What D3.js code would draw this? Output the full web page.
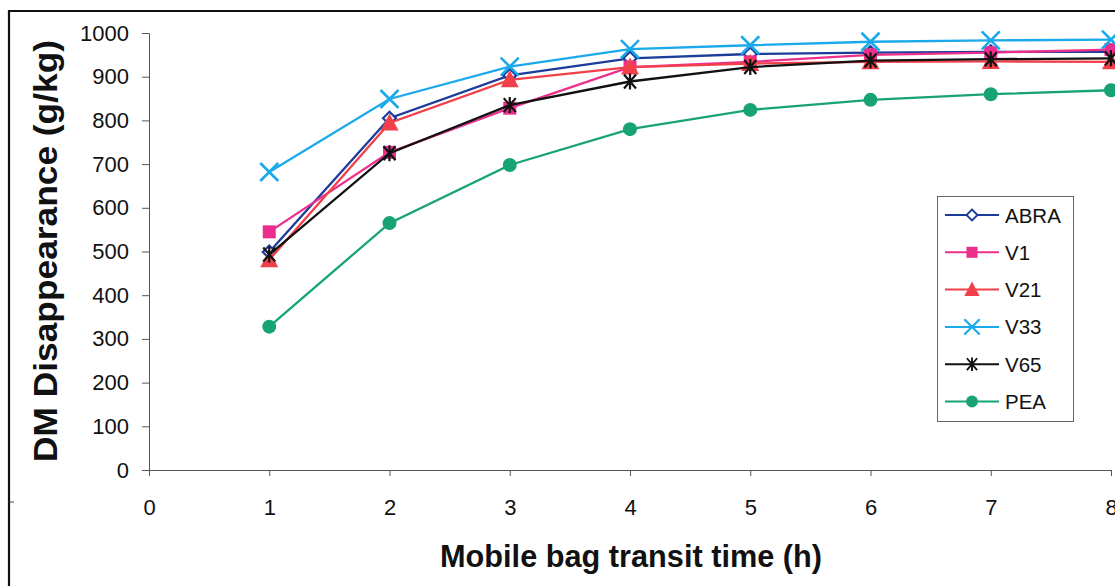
<!DOCTYPE html>
<html>
<head>
<meta charset="utf-8">
<script src="https://cdn.jsdelivr.net/npm/d3@7"></script>
<style>
  html, body { margin: 0; padding: 0; background: #fff; }
  svg { display: block; font-family: Arial, "Liberation Sans", sans-serif; }
</style>
</head>
<body>
<svg id="chart" width="1115" height="586"></svg>
<script>
// Transit time (h) and DM disappearance (g/kg) per forage
const hours = [1, 2, 3, 4, 5, 6, 7, 8];
const abra = [499, 805, 903, 942, 952, 955, 957, 957];
const v1   = [545, 727, 828, 922, 934, 950, 955, 962];
const v21  = [481, 794, 893, 922, 930, 934, 935, 934];
const v33  = [682, 849, 923, 963, 972, 980, 983, 985];
const v65  = [493, 725, 835, 889, 922, 937, 940, 942];
const pea  = [328, 565, 698, 780, 824, 847, 860, 869];
const seriesNames = ["ABRA", "V1", "V21", "V33", "V65", "PEA"];
const xTicks = [0, 1, 2, 3, 4, 5, 6, 7, 8];
const yTicks = [0, 100, 200, 300, 400, 500, 600, 700, 800, 900, 1000];

const series = [
  { name: seriesNames[0], values: abra, color: "#1c3c9c", marker: "diamond" },
  { name: seriesNames[1], values: v1,   color: "#ec2f8c", marker: "square" },
  { name: seriesNames[2], values: v21,  color: "#f2404a", marker: "triangle" },
  { name: seriesNames[3], values: v33,  color: "#1aa9ea", marker: "cross" },
  { name: seriesNames[4], values: v65,  color: "#111111", marker: "asterisk" },
  { name: seriesNames[5], values: pea,  color: "#17a472", marker: "circle" }
];

const svg = d3.select("#chart");

const x = d3.scaleLinear().domain([0, 8]).range([149, 1111]);
const y = d3.scaleLinear().domain([0, 1000]).range([470, 33]);

// outer frame (left and top edges visible)
svg.append("line").attr("x1", 9).attr("x2", 9).attr("y1", 10).attr("y2", 586)
  .attr("stroke", "#111").attr("stroke-width", 2.2);
svg.append("line").attr("x1", 8).attr("x2", 1115).attr("y1", 11).attr("y2", 11)
  .attr("stroke", "#111").attr("stroke-width", 2);
svg.append("line").attr("x1", 9).attr("x2", 14).attr("y1", 502).attr("y2", 502)
  .attr("stroke", "#444").attr("stroke-width", 1);

// axes
const yAxis = d3.axisLeft(y).tickValues(yTicks).tickFormat(d3.format("d"))
  .tickSize(7).tickPadding(13);
const gy = svg.append("g").attr("transform", `translate(${x(0)},0)`).call(yAxis);
gy.select(".domain").attr("stroke", "#555");
gy.selectAll(".tick line").attr("stroke", "#555");
gy.selectAll(".tick text").attr("font-size", 22).attr("fill", "#111")
  .attr("font-family", "Arial, 'Liberation Sans', sans-serif");

const xAxis = d3.axisBottom(x).tickValues(xTicks).tickFormat(d3.format("d"))
  .tickSize(6).tickPadding(23);
const gx = svg.append("g").attr("transform", `translate(0,${y(0)})`).call(xAxis);
gx.select(".domain").attr("stroke", "#555");
gx.selectAll(".tick line").attr("stroke", "#555");
gx.selectAll(".tick text").attr("font-size", 22).attr("fill", "#111")
  .attr("font-family", "Arial, 'Liberation Sans', sans-serif");

// axis titles
svg.append("text")
  .attr("x", 631).attr("y", 567)
  .attr("text-anchor", "middle")
  .attr("font-size", 32).attr("font-weight", "bold").attr("fill", "#111")
  .attr("textLength", 382).attr("lengthAdjust", "spacingAndGlyphs")
  .text("Mobile bag transit time (h)");

svg.append("text")
  .attr("transform", "translate(57,251) rotate(-90)")
  .attr("text-anchor", "middle")
  .attr("font-size", 33).attr("font-weight", "bold").attr("fill", "#111")
  .attr("textLength", 422).attr("lengthAdjust", "spacingAndGlyphs")
  .text("DM Disappearance (g/kg)");

// marker drawing
function drawMarker(g, type, color, cx, cy, k) {
  const m = g.append("g").attr("transform", `translate(${cx},${cy}) scale(${k})`);
  switch (type) {
    case "diamond":
      m.append("path").attr("d", "M0,-6.5L6.5,0L0,6.5L-6.5,0Z")
        .attr("fill", "#fff").attr("stroke", color).attr("stroke-width", 2.2);
      break;
    case "square":
      m.append("rect").attr("x", -6.5).attr("y", -6.5).attr("width", 13).attr("height", 13)
        .attr("fill", color);
      break;
    case "triangle":
      m.append("path").attr("d", "M0,-9.5L9,7.5L-9,7.5Z").attr("fill", color);
      break;
    case "cross":
      m.append("path").attr("d", "M-9,-9L9,9M-9,9L9,-9")
        .attr("stroke", color).attr("stroke-width", 2.6).attr("fill", "none");
      break;
    case "asterisk":
      m.append("path").attr("d", "M-6,-7L6,7M-6,7L6,-7M0,-8L0,8")
        .attr("stroke", color).attr("stroke-width", 2.2).attr("fill", "none");
      break;
    case "circle":
      m.append("circle").attr("r", 7).attr("fill", color);
      break;
  }
}

const line = d3.line().x(d => x(d[0])).y(d => y(d[1]));

series.forEach(s => {
  const pts = hours.map((h, i) => [h, s.values[i]]);
  const g = svg.append("g");
  g.append("path").datum(pts).attr("d", line)
    .attr("fill", "none").attr("stroke", s.color).attr("stroke-width", 2.3);
  pts.forEach(p => drawMarker(g, s.marker, s.color, x(p[0]), y(p[1]), 1));
});

// legend
const legend = svg.append("g");
legend.append("rect").attr("x", 937.5).attr("y", 196.5).attr("width", 136).attr("height", 225)
  .attr("fill", "#fff").attr("stroke", "#666").attr("stroke-width", 1);
series.forEach((s, i) => {
  const ly = 215 + i * 37.3;
  legend.append("line").attr("x1", 945).attr("x2", 999).attr("y1", ly).attr("y2", ly)
    .attr("stroke", s.color).attr("stroke-width", 2);
  drawMarker(legend, s.marker, s.color, 972, ly, 0.85);
  legend.append("text").attr("x", 1005).attr("y", ly + 7.5)
    .attr("font-size", 20.5).attr("fill", "#111").text(s.name);
});
</script>
</body>
</html>
